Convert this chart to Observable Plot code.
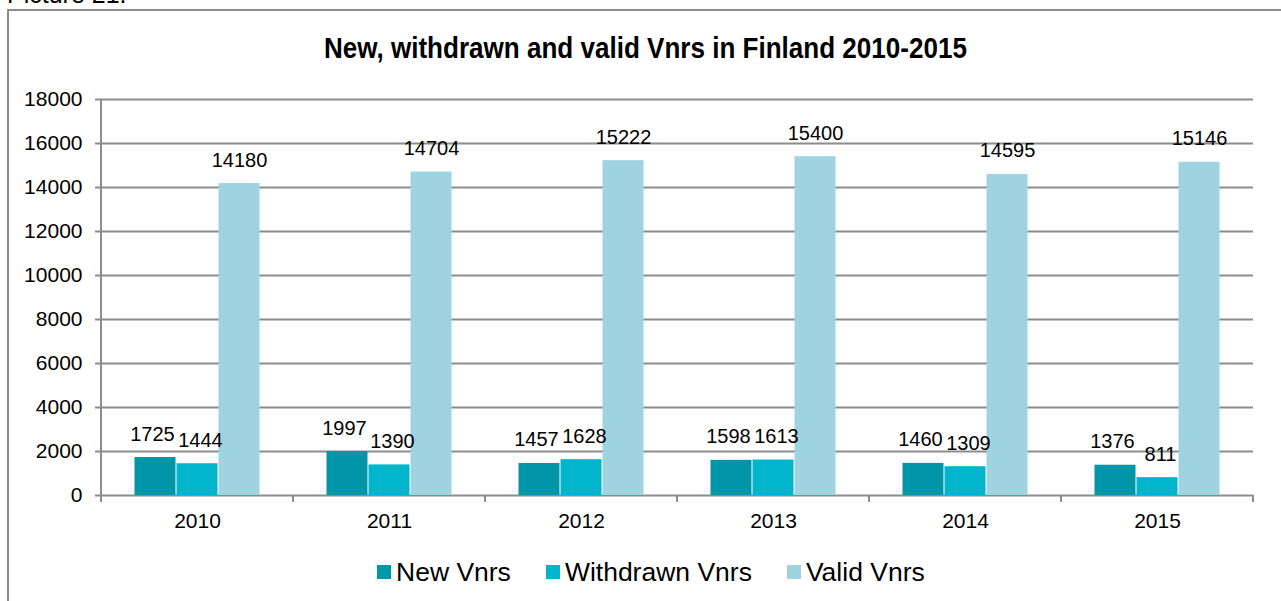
<!DOCTYPE html>
<html>
<head>
<meta charset="utf-8">
<script src="https://cdn.jsdelivr.net/npm/d3@7"></script>
<script src="https://cdn.jsdelivr.net/npm/@observablehq/plot@0.6"></script>
<style>
  html, body { margin: 0; padding: 0; background: #fff; overflow: hidden; }
  body { width: 1281px; height: 601px; position: relative; font-family: "Liberation Sans", Arial, sans-serif; }
  #pic { position: absolute; left: 7px; top: -20px; font-size: 25px; color: #000; white-space: nowrap; }
  #frame { position: absolute; left: 7px; top: 9px; width: 1300px; height: 620px; border: 2px solid #8c8c8c; box-sizing: border-box; }
  #title { position: absolute; left: 0; width: 1290px; top: 33px; line-height: 30px; text-align: center; }
  #title span { display: inline-block; font-family: "Liberation Sans", Arial, sans-serif; font-weight: bold; font-size: 30px; color: #000; white-space: nowrap; transform: scaleX(0.868); transform-origin: 50% 50%; }
  #chart { position: absolute; left: 0; top: 0; }
  #legend { position: absolute; top: 556px; left: 377px; display: flex; align-items: center; font-size: 26.5px; line-height: 32px; color: #000; white-space: nowrap; }
  .item { display: flex; align-items: center; margin-right: 35px; }
  .sw { width: 14px; height: 14px; margin-right: 5px; }
</style>
</head>
<body>
<div id="pic">Picture 21.</div>
<div id="frame"></div>
<div id="title"><span>New, withdrawn and valid Vnrs in Finland 2010-2015</span></div>
<div id="chart"></div>
<div id="legend"></div>
<script>
const years = ["2010", "2011", "2012", "2013", "2014", "2015"];
const seriesNames = ["New Vnrs", "Withdrawn Vnrs", "Valid Vnrs"];
const newVnrs = [1725, 1997, 1457, 1598, 1460, 1376];
const withdrawnVnrs = [1444, 1390, 1628, 1613, 1309, 811];
const validVnrs = [14180, 14704, 15222, 15400, 14595, 15146];
const yTicks = [0, 2000, 4000, 6000, 8000, 10000, 12000, 14000, 16000, 18000];
const colors = ["#0096a8", "#00b5cc", "#a0d3e0"];

const seriesValues = [newVnrs, withdrawnVnrs, validVnrs];
const rows = [];
years.forEach((yr, i) => {
  seriesNames.forEach((s, j) => rows.push({year: yr, series: s, value: seriesValues[j][i]}));
});

const font = "'Liberation Sans', Arial, sans-serif";
const gridColor = "#8c8c8c";
const labelShift = {"New Vnrs": -3, "Withdrawn Vnrs": 3, "Valid Vnrs": 0};

const plot = Plot.plot({
  width: 1281,
  height: 545,
  marginLeft: 101,
  marginRight: 28,
  marginTop: 99,
  marginBottom: 50,
  style: {fontFamily: font, fontSize: "21px", color: "#000", background: "transparent"},
  fx: {domain: years, padding: 0, label: null},
  x: {domain: seriesNames, paddingInner: 0, paddingOuter: 0.75, axis: null},
  y: {domain: [0, 18000], label: null},
  color: {domain: seriesNames, range: colors},
  marks: [
    Plot.ruleY(yTicks, {stroke: gridColor, strokeWidth: 2}),
    Plot.barY(rows, {fx: "year", x: "series", y: "value", fill: "series", insetLeft: 0.5, insetRight: 0.5}),
    ...seriesNames.map(s => Plot.text(rows.filter(d => d.series === s), {fx: "year", x: "series", y: "value", text: d => String(d.value),
      lineAnchor: "bottom", dy: -17, dx: labelShift[s], fill: "#000", fontSize: 20})),
    Plot.axisY({ticks: yTicks, tickFormat: d => String(d), tickSize: 6, tickPadding: 13, stroke: gridColor, strokeWidth: 2, fontSize: 21, label: null}),
    Plot.axisFx({anchor: "bottom", tickSize: 0, tickPadding: 18, fontSize: 21, label: null})
  ]
});

document.getElementById("chart").appendChild(plot);

// category boundary ticks and y-axis spine, derived from the plot's own scales
const fx = plot.scale("fx");
const y = plot.scale("y");
const y0 = y.apply(0);
const yTop = y.apply(18000);
const edges = fx.domain.map(d => fx.apply(d));
edges.push(fx.apply(fx.domain[fx.domain.length - 1]) + fx.bandwidth);
const g = d3.select(plot).append("g").attr("stroke", gridColor).attr("stroke-width", 2);
g.selectAll("line.tick").data(edges).join("line")
  .attr("x1", d => d).attr("x2", d => d).attr("y1", y0).attr("y2", y0 + 7);
g.append("line").attr("x1", edges[0]).attr("x2", edges[0]).attr("y1", yTop).attr("y2", y0 + 7);

// legend
const legend = document.getElementById("legend");
seriesNames.forEach((s, i) => {
  const it = document.createElement("div");
  it.className = "item";
  const sw = document.createElement("div");
  sw.className = "sw";
  sw.style.background = colors[i];
  const tx = document.createElement("span");
  tx.textContent = s;
  it.appendChild(sw); it.appendChild(tx);
  legend.appendChild(it);
});
</script>
</body>
</html>
